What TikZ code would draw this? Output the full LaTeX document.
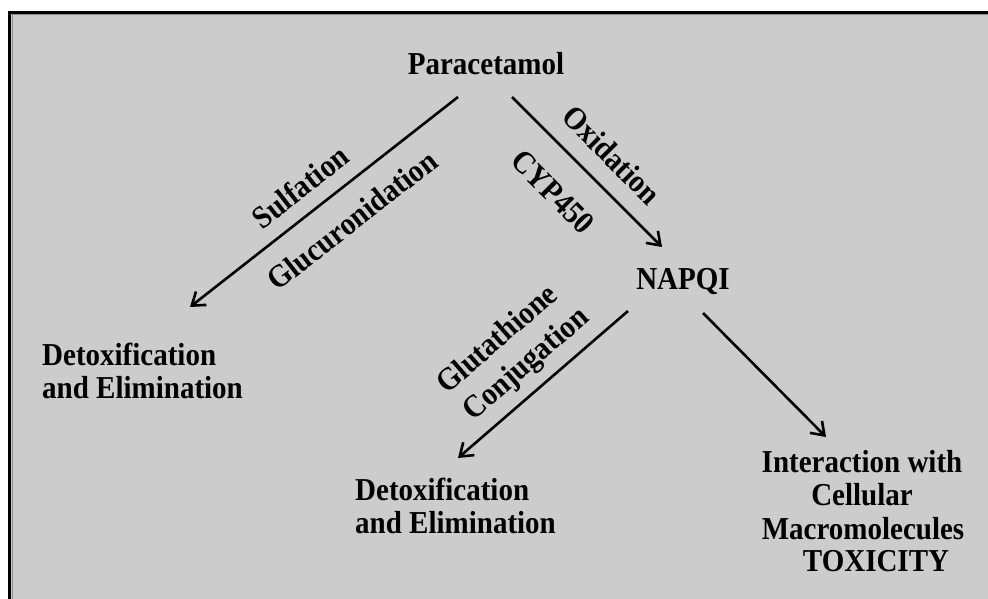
\documentclass[tikz,border=0pt]{standalone}
\usepackage{fontspec}
\setmainfont{Liberation Serif}
\usetikzlibrary{arrows.meta}
\definecolor{bg}{HTML}{CCCCCC}
\definecolor{edgegray}{HTML}{8C8C8C}
\begin{document}
\begin{tikzpicture}[x=1pt,y=-1pt,
  txt/.style={font=\fontsize{29}{33}\selectfont\bfseries, inner sep=0pt},
  tall/.style={yscale=1.1},
  arr/.style={line width=2.6pt, -{Straight Barb[length=12pt,width=17pt]}}]
\useasboundingbox (0,0) rectangle (988,599);
\fill[white] (0,0) rectangle (988,599);
\fill[bg] (9.5,12.5) rectangle (988,599);
\draw[edgegray, line width=1pt] (12,599) -- (12,15) -- (988,15);
\draw[line width=3pt] (9.5,599) -- (9.5,12.5) -- (988,12.5);

\node[txt, tall, anchor=base] (para) at (486,75) {Paracetamol};
\node[txt, tall, anchor=base west] (d1a) at (42,365) {Detoxification};
\node[txt, tall, anchor=base west] (d1b) at (42,398) {and Elimination};
\node[txt, tall, anchor=base] (napqi) at (683,289) {NAPQI};
\node[txt, tall, anchor=base west] (d2a) at (355,500) {Detoxification};
\node[txt, tall, anchor=base west] (d2b) at (355,533) {and Elimination};
\node[txt, tall, anchor=base] (i1) at (862,472) {Interaction with};
\node[txt, tall, anchor=base] (i2) at (862,505) {Cellular};
\node[txt, tall, anchor=base] (i3) at (863,539) {Macromolecules};
\node[txt, tall, anchor=base] (i4) at (876,571) {TOXICITY};

\node[txt, rotate=38, tall] (sulf) at (300,187) {Sulfation};
\node[txt, rotate=38, tall] (gluc) at (352,220) {Glucuronidation};
\node[txt, rotate=-45, tall] (oxid) at (612,155) {Oxidation};
\node[txt, rotate=-45, tall] (cyp) at (553,192) {CYP450};
\node[txt, rotate=41, tall] (glut) at (496,338) {Glutathione};
\node[txt, rotate=41, tall] (conj) at (527,365) {Conjugation};

\coordinate (a1s) at (458,97);
\coordinate (a1e) at (190,307);
\coordinate (a2s) at (512,97);
\coordinate (a2e) at (662,247);
\coordinate (a3s) at (628,311);
\coordinate (a3e) at (458,458);
\coordinate (a4s) at (703,313);
\coordinate (a4e) at (826,437);
\draw[arr] (a1s) -- (a1e);
\draw[arr] (a2s) -- (a2e);
\draw[arr] (a3s) -- (a3e);
\draw[arr] (a4s) -- (a4e);
\end{tikzpicture}
\end{document}
